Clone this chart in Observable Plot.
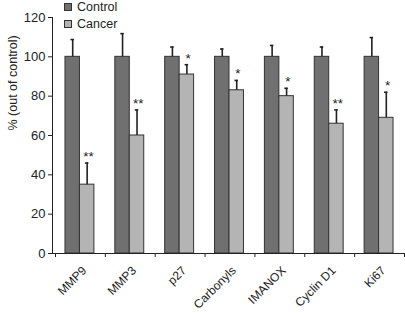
<!DOCTYPE html>
<html>
<head>
<meta charset="utf-8">
<script src="https://cdn.jsdelivr.net/npm/d3@7"></script>
<script src="https://cdn.jsdelivr.net/npm/@observablehq/plot@0.6"></script>
<style>
  html, body { margin: 0; padding: 0; background: #fff; }
  #wrap { position: relative; width: 405px; height: 313px; font-family: "Liberation Sans", Arial, sans-serif; }
  .legend { position: absolute; left: 64px; font-size: 12.5px; color: #222; display: flex; align-items: center; line-height: 14px; z-index: 2; }
  .legend span.sw { display: inline-block; width: 6px; height: 6px; border: 1px solid #333; margin-right: 5px; }
</style>
</head>
<body>
<div id="wrap">
  <div class="legend" style="top:0px"><span class="sw" style="background:#707070"></span>Control</div>
  <div class="legend" style="top:17px"><span class="sw" style="background:#b4b4b4"></span>Cancer</div>
</div>
<script>
const categories = ["MMP9", "MMP3", "p27", "Carbonyls", "IMANOX", "Cyclin D1", "Ki67"];
const controlValues = [100, 100, 100, 100, 100, 100, 100];
const controlErrTop = [108.8, 111.8, 105, 104, 105.8, 105, 109.8];
const cancerValues = [35, 60, 91, 83, 80, 66, 69];
const cancerErrTop = [46, 73, 96, 88, 84, 73, 82];
const significance = ["**", "**", "*", "*", "*", "**", "*"];
const yTicks = [0, 20, 40, 60, 80, 100, 120];

const controlColor = "#707070";
const cancerColor = "#b4b4b4";

const rows = categories.map((c, i) => ({
  cat: c, i,
  control: controlValues[i], controlErr: controlErrTop[i],
  cancer: cancerValues[i], cancerErr: cancerErrTop[i],
  sig: significance[i]
}));

const plot = Plot.plot({
  width: 405,
  height: 313,
  marginLeft: 52,
  marginRight: 1,
  marginTop: 17,
  marginBottom: 60,
  style: { fontFamily: "'Liberation Sans', Arial, sans-serif", background: "white", color: "#222" },
  x: { type: "linear", domain: [0, 7], range: [55, 404], axis: null },
  y: { type: "linear", domain: [0, 120], axis: null },
  marks: [
    // bars
    Plot.rectY(rows, { x1: d => d.i + 0.2, x2: d => d.i + 0.49, y1: 0, y2: "control", fill: controlColor, stroke: "#333", strokeWidth: 1 }),
    Plot.rectY(rows, { x1: d => d.i + 0.49, x2: d => d.i + 0.78, y1: 0, y2: "cancer", fill: cancerColor, stroke: "#333", strokeWidth: 1 }),
    // error bars
    Plot.ruleX(rows, { x: d => d.i + 0.345, y1: "control", y2: "controlErr", stroke: "#222", strokeWidth: 1.6 }),
    Plot.ruleY(rows, { y: "controlErr", x1: d => d.i + 0.31, x2: d => d.i + 0.38, stroke: "#222", strokeWidth: 1.6 }),
    Plot.ruleX(rows, { x: d => d.i + 0.635, y1: "cancer", y2: "cancerErr", stroke: "#222", strokeWidth: 1.6 }),
    Plot.ruleY(rows, { y: "cancerErr", x1: d => d.i + 0.60, x2: d => d.i + 0.67, stroke: "#222", strokeWidth: 1.6 }),
    // significance stars
    Plot.text(rows, { x: d => d.i + 0.66, y: "cancerErr", text: "sig", fontSize: 13.5, lineAnchor: "bottom", dy: -2, fill: "#222", style: "letter-spacing:1.5px" }),
    // y axis
    Plot.ruleX([0], { x: 0, dx: -3, y1: 0, y2: 120, stroke: "#222", strokeWidth: 1 }),
    Plot.ruleY(yTicks, { y: d => d, x1: 0, x2: 0, dx: -3, insetLeft: -4, stroke: "#222" }),
    Plot.text(yTicks, { x: 0, y: d => d, text: d => String(d), dx: -10, textAnchor: "end", fontSize: 13, fill: "#222" }),
    Plot.text(["% (out of control)"], { frameAnchor: "left", dx: -40, dy: -5, rotate: -90, fontSize: 12.5, fill: "#222" }),
    // x axis
    Plot.ruleY([0], { x1: 0, x2: 7, insetLeft: -3, stroke: "#222" }),
    Plot.ruleX(d3.range(0, 8), { x: d => d, y1: 0, y2: 0, insetBottom: -4, stroke: "#222" }),
    Plot.text(rows, { x: d => d.i + 0.5, y: 0, text: "cat", rotate: -45, textAnchor: "end", lineAnchor: "middle", dx: 4, dy: 15, fontSize: 12, fill: "#222" })
  ]
});

document.getElementById("wrap").prepend(plot);
plot.style.position = "absolute";
plot.style.left = "0";
plot.style.top = "0";
</script>
</body>
</html>
